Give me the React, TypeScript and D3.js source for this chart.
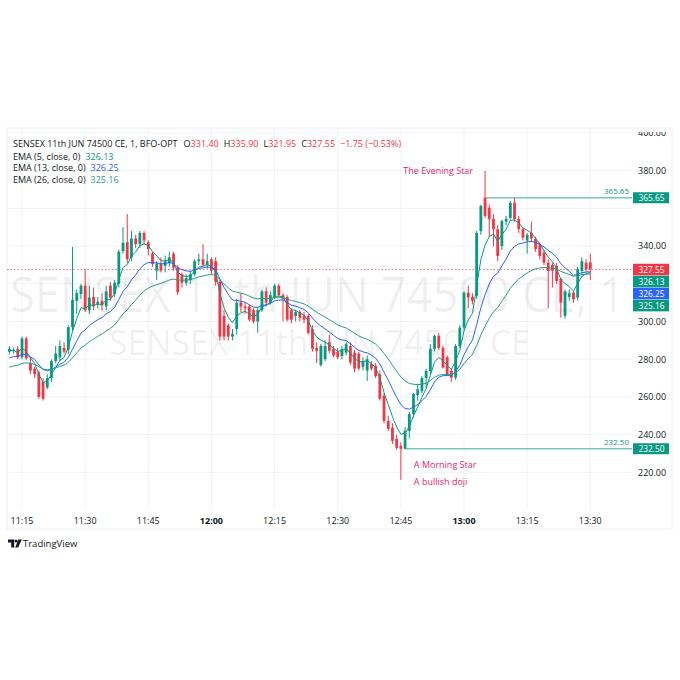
import * as d3 from "d3";

// 1-minute candles, first one at 11:12
const firstCandle = new Date(2024, 5, 11, 11, 12);
const opens = [
  284, 284.5, 285.5, 281, 291, 278, 275, 273, 268, 265,
  270, 279, 281, 286, 285, 297, 311, 314.6, 319, 306,
  313, 309, 311, 308, 319, 314.6, 320, 337.4, 342, 334,
  344, 341, 347, 342, 336, 327, 331, 329.5, 331, 336,
  328.6, 325, 320.5, 322, 325, 332, 333, 330, 333, 332,
  321, 303, 298, 292, 296, 310, 308, 308, 306, 300,
  306, 316, 310, 313, 319, 314, 313, 306, 303, 305,
  303, 303, 296, 286, 277, 280, 289, 285.5, 284, 281.7,
  283.5, 287, 283.5, 283, 276, 274, 277.5, 276.5, 272, 260.6,
  247.3, 243.7, 237.7, 234, 232.5, 242, 251, 261, 263, 270,
  273.8, 285.5, 292.4, 286, 281, 273.8, 270.3, 287, 296.8, 315.3,
  313, 313.6, 348, 365.65, 360.4, 354.4, 349, 340, 353, 355,
  363, 354.4, 349, 343, 347, 343.8, 341, 336.5, 331.2, 330,
  329.5, 322.6, 303, 313, 315.3, 312.7, 326.8, 331.2, 331.4,
];
const highs = [
  287, 286, 287, 292, 292, 281, 276, 274, 270, 272,
  280, 287, 290, 289, 298, 339.5, 317, 320, 327.5, 319,
  318, 313, 315, 319, 321, 322, 338, 350, 357, 348,
  346, 348, 348, 343, 337, 332, 334, 335, 337, 337,
  330, 326, 325, 327, 333, 336, 341, 336, 334, 334,
  322, 306, 299, 296, 312, 315, 310, 309, 307, 307,
  317, 318, 316, 320, 320, 315, 314, 307, 306, 306,
  305, 304, 298, 289, 288, 290, 293, 287, 286, 287,
  289, 289, 285, 284, 281, 282, 279, 278, 274, 262,
  250, 246, 240, 236, 244, 252, 262, 267, 271, 275,
  288, 293, 294, 287, 282, 275, 288, 298, 316, 319,
  315, 348, 362, 380, 362, 357, 351, 354, 356, 364,
  365.5, 356, 350, 347, 353, 345, 342, 338, 333, 331,
  331, 323, 317, 317, 316, 329, 334, 333, 335.9,
];
const lows = [
  282.5, 283, 280, 280, 279.5, 272, 270, 259, 258, 264,
  268, 278, 279, 283, 283, 295, 304, 312, 305, 304,
  306, 307, 306, 306, 311, 313, 318, 336, 331, 332,
  339, 339, 341, 335, 329, 322, 326, 326, 329, 327,
  314, 318, 319, 320, 324, 330, 329, 328, 325, 319,
  290, 290, 290, 290, 293, 305, 304, 300, 299, 294,
  305, 308, 309, 312, 313, 300, 300, 299, 300, 300,
  299, 293, 284, 278, 276, 279, 283, 281, 280, 280,
  282, 277, 273, 274, 274, 268.5, 274, 270, 258, 246,
  242, 235, 232, 216, 232.5, 238, 249, 258, 262, 265,
  272, 284, 285, 275, 271, 268, 269, 286, 295, 307,
  309, 312, 346, 355, 345, 340, 332, 338, 351, 354,
  353, 347, 343, 336, 342, 337, 333, 330, 307, 318,
  320, 302, 301.5, 311, 310, 311, 325, 326, 321.95,
];
const closes = [
  285.5, 285, 281, 291, 280.5, 274, 272, 260, 259, 270,
  279, 283, 287, 284, 297, 311.5, 315, 319, 306, 312.7,
  308, 310.5, 308.5, 316, 312.7, 320.6, 337, 341.8, 333, 344,
  341, 347, 343, 338.5, 330.5, 330.7, 327, 332, 334, 328.6,
  315.5, 320.6, 323, 325, 332, 333, 330, 332, 327, 321,
  292, 292, 292, 293.5, 310, 308, 307, 301, 300, 306,
  316, 310, 314, 319, 314, 312, 301, 301, 305, 302,
  301, 294, 285.5, 284.4, 287, 287, 284.5, 282, 281, 285.5,
  288, 278.2, 275, 275, 279, 280, 275, 271, 259, 247.3,
  243, 236.7, 233, 232.5, 242, 251, 261.5, 264, 270, 273.8,
  285.5, 292.4, 286, 275.6, 272, 270.3, 287, 296.8, 315.3, 312.7,
  311, 347, 361.3, 356, 354.2, 349, 334.8, 353.3, 354.5, 363,
  354.4, 349, 344.5, 346, 344, 338.5, 334.8, 331.2, 326.8, 327,
  321.5, 310, 316, 315, 311.8, 327.7, 332, 327.7, 327.55,
];

const emaPeriods = [5, 13, 26];
const emaSeeds = [284, 280, 275];
const emaLegendValues = [326.13, 326.25, 325.16];
const emaColors = ["#089981", "#2962ff", "#22a083"];
const emaLabelColors = ["#089981", "#2962ff", "#089981"];

const title = "SENSEX 11th JUN 74500 CE, 1, BFO-OPT";
const ohlcKeys = ["O", "H", "L", "C"];
const ohlcValues = ["331.40", "335.90", "321.95", "327.55"];
const changeText = "\u22121.75 (\u22120.53%)";
const lastClose = 327.55;

const priceTicks = [220, 240, 260, 280, 300, 320, 340, 360, 380, 400];
// candle index counted from 11:12
const levels = [
  { value: 365.65, from: 113 },
  { value: 232.5, from: 94 },
];
const notes = [
  { text: "The Evening Star", idx: 113, price: 380, dx: -12, dy: 3, anchor: "end" },
  { text: "A Morning Star", idx: 93, price: 232.5, dx: 13, dy: 19, anchor: "start" },
  { text: "A bullish doji", idx: 93, price: 232.5, dx: 13, dy: 36, anchor: "start" },
];
const watermark1 = "SENSEX 11th JUN 74500 CE, 1";
const watermark2 = "SENSEX 11th JUN 74500 CE";

const W = 680, H = 680;
const paneLeft = 7, paneRight = 632, paneTop = 129, paneBottom = 510;
const UP = "#089981", DOWN = "#f23645", TEXT = "#131722";
const FONT = "'Open Sans', sans-serif";

function ema(values: number[], period: number, seed: number) {
  const k = 2 / (period + 1);
  let prev = seed;
  return values.map((v) => (prev = v * k + prev * (1 - k)));
}

export default function App() {
  const times = closes.map((_, i) => d3.timeMinute.offset(firstCandle, i));
  const x = d3
    .scaleTime()
    .domain([new Date(2024, 5, 11, 11, 15), new Date(2024, 5, 11, 13, 30)])
    .range([22, 590.3]);
  const y = d3.scaleLinear().domain([220, 400]).range([472.3, 133]);
  const timeTicks = x.ticks(d3.timeMinute.every(15)!);
  const fmt = d3.timeFormat("%H:%M");
  const bw = 2.8;

  const emas = emaPeriods.map((p, j) => ema(closes, p, emaSeeds[j]));
  const line = d3
    .line<number>()
    .x((_, i) => x(times[i]))
    .y((d) => y(d));

  // stacked labels on the price axis
  const axisLabels = [
    { v: lastClose, color: DOWN },
    ...emaLegendValues.map((v, j) => ({ v, color: emaLabelColors[j] })),
  ];
  let prevY = -Infinity;
  const stacked = axisLabels.map((l) => {
    const cy = Math.max(y(l.v), prevY + 12);
    prevY = cy;
    return { ...l, cy };
  });
  const boxYs = [...stacked.map((s) => s.cy), ...levels.map((l) => y(l.value))];
  // tick labels hidden behind a label box are not drawn
  const visibleTicks = priceTicks.filter((p) => boxYs.every((b) => Math.abs(b - y(p)) > 11));

  return (
    <svg
      width={W}
      height={H}
      style={{ position: "absolute", left: 0, top: 0, background: "#fff" }}
      fontFamily={FONT}
    >
      <defs>
        <clipPath id="pane">
          <rect x={paneLeft} y={paneTop} width={paneRight - paneLeft} height={paneBottom - paneTop} />
        </clipPath>
        <clipPath id="axis">
          <rect x={paneRight} y={paneTop + 3} width={W - paneRight} height={paneBottom - paneTop} />
        </clipPath>
      </defs>
      <rect x={paneLeft} y={paneTop - 1} width={672 - paneLeft} height={529 - paneTop + 1} fill="none" stroke="#eceef2" />

      {/* grid */}
      <g stroke="#f0f3fa" strokeWidth={1}>
        {timeTicks.map((t) => (
          <line key={+t} x1={x(t)} x2={x(t)} y1={paneTop} y2={paneBottom} />
        ))}
        {priceTicks.map((p) => (
          <line key={p} x1={paneLeft} x2={paneRight} y1={y(p)} y2={y(p)} />
        ))}
      </g>

      {/* watermark */}
      <g clipPath="url(#pane)" fill="#000" fillOpacity={0.065}>
        <text x={10} y={312} fontSize={49} textLength={615} lengthAdjust="spacingAndGlyphs">
          {watermark1}
        </text>
        <text x={109} y={355} fontSize={34} textLength={421} lengthAdjust="spacingAndGlyphs">
          {watermark2}
        </text>
      </g>

      <g clipPath="url(#pane)">
        {/* last price line */}
        <line x1={paneLeft} x2={paneRight} y1={y(lastClose)} y2={y(lastClose)} stroke={DOWN} strokeOpacity={0.7} strokeDasharray="1.5 2" />

        {/* marked levels */}
        {levels.map((l) => (
          <g key={l.value}>
            <line x1={x(times[l.from])} x2={paneRight} y1={y(l.value)} y2={y(l.value)} stroke="#089981" strokeOpacity={0.55} strokeWidth={1.5} />
            <text x={629} y={y(l.value) - 4} fontSize={8} fill="#089981" textAnchor="end">
              {l.value.toFixed(2)}
            </text>
          </g>
        ))}

        {/* candles */}
        {closes.map((c, i) => {
          const o = opens[i];
          const col = c >= o ? UP : DOWN;
          const cx = x(times[i]);
          const top = y(Math.max(o, c));
          const h = Math.max(1, Math.abs(y(o) - y(c)));
          return (
            <g key={i} fill={col} stroke={col}>
              <line x1={cx} x2={cx} y1={y(highs[i])} y2={y(lows[i])} strokeWidth={1} />
              <rect x={cx - bw / 2} y={top} width={bw} height={h} stroke="none" />
            </g>
          );
        })}

        {/* EMAs */}
        {emas.map((e, j) => (
          <path key={j} d={line(e) ?? ""} fill="none" stroke={emaColors[j]} strokeWidth={1} />
        ))}

        {notes.map((n) => (
          <text
            key={n.text}
            x={x(times[n.idx]) + n.dx}
            y={y(n.price) + n.dy}
            fontSize={9}
            fill="#e91e63"
            textAnchor={n.anchor as any}
          >
            {n.text}
          </text>
        ))}
      </g>

      {/* price axis */}
      <g clipPath="url(#axis)" fontSize={9} fill={TEXT}>
        {visibleTicks.map((p) => (
          <text key={p} x={638} y={y(p) + 3.3}>
            {p.toFixed(2)}
          </text>
        ))}
      </g>
      {levels.map((l) => (
        <g key={l.value}>
          <rect x={633} y={y(l.value) - 5.5} width={36} height={11} fill={UP} />
          <text x={638.5} y={y(l.value) + 3} fontSize={8.4} fill="#fff">
            {l.value.toFixed(2)}
          </text>
        </g>
      ))}
      {stacked.map((l, j) => (
        <g key={j}>
          <rect x={633} y={l.cy - 5.8} width={36} height={11.6} fill={l.color} />
          <text x={638.5} y={l.cy + 3} fontSize={8.4} fill="#fff">
            {l.v.toFixed(2)}
          </text>
        </g>
      ))}

      {/* time axis */}
      {timeTicks.map((t) => (
        <text
          key={+t}
          x={x(t)}
          y={523.5}
          fontSize={9}
          fill={TEXT}
          textAnchor="middle"
          fontWeight={t.getMinutes() === 0 ? 700 : 400}
        >
          {fmt(t)}
        </text>
      ))}

      {/* legend */}
      <g fontSize={9}>
        <text x={13} y={147.3} fill={TEXT}>
          {title}
          {ohlcKeys.map((k, i) => (
            <tspan key={k} dx={i === 0 ? 6 : 5}>
              <tspan fill={TEXT}>{k}</tspan>
              <tspan fill={DOWN}>{ohlcValues[i]}</tspan>
            </tspan>
          ))}
          <tspan dx={5} fill={DOWN}>
            {changeText}
          </tspan>
        </text>
        {emaPeriods.map((p, j) => (
          <text key={p} x={13} y={159.8 + j * 11.4}>
            <tspan fill={TEXT}>{`EMA (${p}, close, 0)`}</tspan>
            <tspan dx={5} fill={emaColors[j]}>
              {emaLegendValues[j].toFixed(2)}
            </tspan>
          </text>
        ))}
      </g>

      {/* TradingView logo */}
      <g fill={TEXT}>
        <path d="M8 539.5h6.2v8h-3v-5h-3.2z" />
        <circle cx={16} cy={541} r={1.5} />
        <path d="M18.3 539.5h3.5l-3.6 8h-3z" />
        <text x={23} y={547} fontSize={9.5}>
          TradingView
        </text>
      </g>
    </svg>
  );
}
